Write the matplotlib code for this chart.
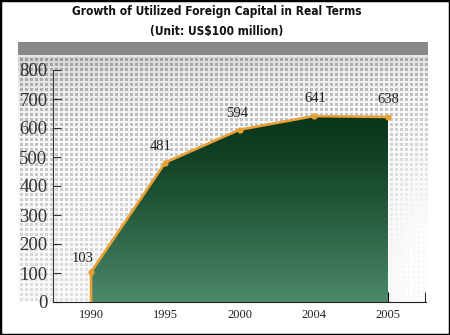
import matplotlib
matplotlib.use("Agg")
import matplotlib.pyplot as plt
from matplotlib.patches import Rectangle
import numpy as np

# data
years = ["1990", "1995", "2000", "2004", "2005"]
capital = [103, 481, 594, 641, 638]
yticks = [0, 100, 200, 300, 400, 500, 600, 700, 800]

title1 = "Growth of Utilized Foreign Capital in Real Terms"
title2 = "(Unit: US$100 million)"

label_offsets = [(-6, 5), (-3, 7), (-2, 7), (1, 8), (0, 8)]

W, H = 450, 335
fig = plt.figure(figsize=(W / 100, H / 100), dpi=100)
fig.patch.set_facecolor("white")

# ---- textured grey panel behind the plot
px_l, px_r, px_t, px_b = 18, 428, 42, 302
pw, ph = px_r - px_l, px_b - px_t
bg = fig.add_axes([px_l / W, 1 - px_b / H, pw / W, ph / H])
bg.set_axis_off()

rows, cols = np.mgrid[0:ph, 0:pw].astype(float)
t = np.clip((rows - 14) / (ph - 14), 0, 1)
base = 0.58 + 0.30 * np.sqrt(t)
# lighter towards lower right
glare = np.exp(-(((cols - 405) / 40) ** 2 + ((rows - 200) / 90) ** 2))
base = base + 0.12 * glare
base = base + 0.05 * (cols / pw)
grid = ((cols % 5) < 1.5) | (((rows - 14) % 5) < 1.5)
line_val = np.minimum(base + 0.22, 0.98)
val = np.where(grid, line_val, base)
val = np.where(rows < 13, 0.54, val)
val = np.where((rows >= 13) & (rows < 15), 0.9, val)
val = np.clip(val, 0, 1)
img = np.dstack([val, val, val])
bg.imshow(img, extent=(0, pw, ph, 0), interpolation="nearest", aspect="auto")
bg.set_xlim(0, pw)
bg.set_ylim(ph, 0)

# ---- main axes
x = np.arange(len(years))
ax = fig.add_axes([53 / W, 1 - 302 / H, 373 / W, 232 / H])
ax.patch.set_alpha(0)

poly = ax.fill_between(x, 0, capital, color="none", lw=0)
grad = np.linspace(0, 1, 256)[:, None]
top_c = np.array([0.03, 0.21, 0.10])
bot_c = np.array([0.30, 0.54, 0.42])
gimg = top_c + (bot_c - top_c) * (grad ** 1.3)[..., None] * np.ones((1, 10, 1))
gi = ax.imshow(gimg, extent=(0, 4, 0, 660), aspect="auto", origin="upper",
               interpolation="bilinear", zorder=2)
gi.set_clip_path(poly.get_paths()[0], transform=ax.transData)
ax.set_xlim(-0.512, 4.512)
ax.set_ylim(0, 800)

orange = "#e9a035"
ax.plot(np.r_[x[0], x], np.r_[0, capital], color=orange, lw=1.9, zorder=3,
        solid_joinstyle="round")
ax.plot(x, capital, "o", color=orange, ms=3.5, zorder=4)

for xi, v, off in zip(x, capital, label_offsets):
    ax.annotate(str(v), (xi, v), xytext=off, textcoords="offset points",
                ha="center", va="bottom", fontsize=10.5,
                family="Liberation Serif", color="#222222", zorder=5)

for s in ["top", "right"]:
    ax.spines[s].set_visible(False)
ax.spines["left"].set_color("#333333")
ax.spines["bottom"].set_color("#222222")
ax.set_yticks(yticks)
ax.set_yticklabels([str(v) for v in yticks], family="Liberation Serif",
                   fontsize=13.5, color="#333333")
ax.set_xticks(x)
ax.set_xticklabels(years, family="Liberation Serif", fontsize=9, color="#222222")
ax.set_xticks([4.5], minor=True)
ax.tick_params(axis="y", direction="in", length=6, pad=4, colors="#333333")
ax.tick_params(axis="x", which="both", direction="in", length=7, pad=5)

# ---- titles
for txt, ypx in [(title1, 11), (title2, 31)]:
    fig.text(217 / W, 1 - ypx / H, txt, ha="center", va="center", fontsize=8.6,
             weight="bold", family="DejaVu Sans", fontstretch="condensed",
             color="#111111")

# ---- outer frame
fig.patches.append(Rectangle((0, 0), 1, 1, transform=fig.transFigure, fill=False,
                             edgecolor="black", lw=2.5))

fig.savefig("out.png", dpi=100)
